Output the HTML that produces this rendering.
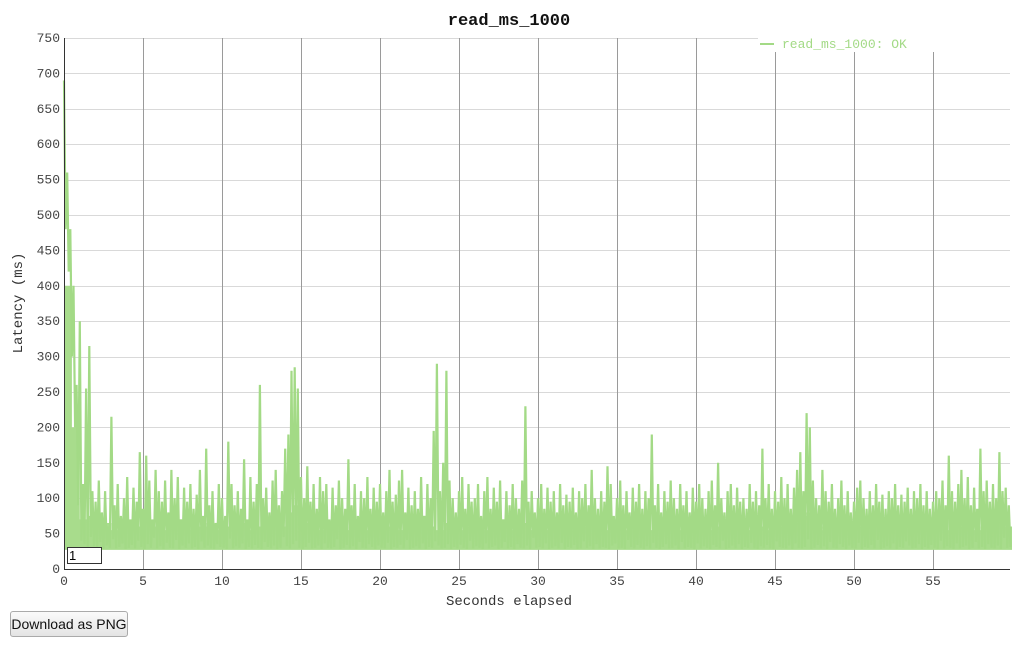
<!DOCTYPE html>
<html><head><meta charset="utf-8"><style>
body{margin:0;background:#fff;width:1024px;height:647px;overflow:hidden;font-family:"Liberation Mono",monospace}
svg{position:absolute;left:0;top:0}
#box{position:absolute;left:67px;top:547px;width:32px;height:15px;border:1px solid #333;background:#fff;font:13px "Liberation Sans",sans-serif;line-height:15px;padding-left:1px;box-sizing:content-box}
#btn{position:absolute;left:10px;top:611px;width:118px;height:26px;border:1px solid #aaa;border-radius:3px;background:linear-gradient(#fafafa,#e4e4e4);font:14px "Liberation Sans",sans-serif;color:#111;text-align:center;line-height:24px;box-sizing:border-box}
</style></head><body>
<svg id="chart" width="1024" height="647"></svg>
<div id="box">1</div>
<div id="btn">Download as PNG</div>
<script>
const xTicks=[0,5,10,15,20,25,30,35,40,45,50,55];
const yTicks=[0,50,100,150,200,250,300,350,400,450,500,550,600,650,700,750];
const peakValues=[690,560,480,400,260,350,120,255,315,110,95,125,80,110,60,215,90,120,75,100,130,70,115,95,165,85,160,125,70,140,110,95,125,80,140,100,130,70,115,95,120,85,105,140,75,170,90,110,65,120,100,75,180,120,90,110,85,155,70,130,95,120,260,100,115,80,125,140,90,110,170,190,280,285,255,130,100,145,95,120,85,130,110,120,70,115,90,125,100,85,155,90,120,75,110,100,130,85,115,95,120,80,110,140,95,105,125,140,80,115,90,110,85,130,75,120,100,195,290,110,150,280,125,100,80,110,130,85,120,95,100,120,75,110,130,85,115,95,125,70,110,90,120,100,85,125,230,95,110,80,100,120,85,115,95,110,80,120,90,105,95,115,80,110,100,120,90,140,100,85,110,95,145,120,75,100,125,90,110,80,115,95,120,85,110,100,190,90,120,80,110,95,125,100,85,120,90,110,80,115,95,120,100,85,110,125,90,150,100,80,110,120,90,115,95,100,85,120,95,110,90,170,100,120,85,110,95,130,100,120,85,115,140,165,110,220,200,125,100,90,140,110,95,120,85,100,125,90,110,80,95,115,125,100,85,110,90,120,95,105,85,110,100,120,90,105,95,115,85,110,100,120,90,110,85,95,110,100,125,90,160,110,95,120,140,100,130,90,115,85,170,110,125,95,120,100,165,110,115,90];
const troughValues=[480,420,300,200,90,40,35,30,45,32,29,38,28,33,30,42,29,31,36,28,30,34,29,40,31,28,35,30,44,29,32,28,37,30,29,41,28,33,30,36,29,31,28,39,30,33,29,28,35,31,30,28,43,29,32,30,36,28,31,29,34,30,28,38,31,29,33,28,30,45,32,29,35,40,30,28,31,37,29,30,33,28,36,30,29,31,42,28,30,34,29,32,28,38,30,29,35,31,28,33,30,29,37,28,31,30,34,29,41,28,30,32,29,36,28,31,30,39,33,29,30,35,28,31,29,34,30,28,40,29,32,30,28,36,29,31,33,28,30,38,29,31,28,35,30,29,33,28,44,30,31,29,36,28,30,32,29,37,28,31,30,34,28,29,39,30,32,28,35,29,31,30,28,33,36,29,30,28,41,31,29,34,30,28,32,29,37,30,28,31,35,29,30,33,28,38,29,31,30,28,36,29,32,30,28,34,31,29,40,28,30,33,29,35,28,31,30,37,29,28,32,30,34,29,28,39,31,30,29,33,28,36,30,29,31,42,28,30,34,29,32,28,38,30,29,35,31,28,33,30,29,37,28,31,30,34,29,41,28,30,32,29,36,28,31,30,39,33,29,30,35,28,31,29,34,30,28,40,29,32,30,28,36,29,31,33,28,30,38,29,31,28,35,30,29,33,28,44,30,31,29,36,28,30,32,29,37,28,31,30,34];
// dense-fill level per 0.5 s (where samples pack solid)
const denseLevel=[400,200,70,75,60,65,55,70,65,60,70,60,55,65,70,60,55,60,65,55,60,70,65,55,60,65,75,60,80,90,65,60,55,60,65,55,60,70,55,60,65,60,55,65,70,75,60,55,65,60,55,60,65,55,60,70,55,60,65,55,60,55,65,60,55,60,65,60,55,65,70,55,60,65,55,60,70,60,55,65,60,55,60,65,70,60,55,65,60,55,60,70,65,75,80,60,55,65,60,55,60,55,65,60,55,60,65,55,60,65,60,70,55,60,65,55,60,65,70,60];
const NS="http://www.w3.org/2000/svg";
const svg=document.getElementById('chart');
const X0=64,X1=1012,Y0=569,Y1=38;
const xs=t=>X0+(X1-X0)*t/60;
const ys=v=>Y0-(Y0-Y1)*v/750;
const px=v=>Math.round(v)+0.5;
function mk(tag,attrs,parent){const e=document.createElementNS(NS,tag);for(const k in attrs)e.setAttribute(k,attrs[k]);(parent||svg).appendChild(e);return e;}
const grid=mk('g',{});


yTicks.forEach(v=>{if(v>0){mk('line',{x1:X0,x2:1010,y1:px(ys(v)),y2:px(ys(v)),stroke:'#d9d9d9','stroke-width':1},grid);}
 const t=mk('text',{x:X0-4,y:ys(v)+4,'text-anchor':'end','font-size':13,fill:'#444','font-family':'Liberation Mono, monospace'});
 t.textContent=v;
 
 });
xTicks.forEach(v=>{if(v>0){mk('line',{x1:px(xs(v)),x2:px(xs(v)),y1:Y1,y2:Y0,stroke:'#9a9a9a','stroke-width':1},grid);}
 const t=mk('text',{x:xs(v),y:585,'text-anchor':'middle','font-size':13,fill:'#444','font-family':'Liberation Mono, monospace'});
 t.textContent=v;
 
 });
let fp=[xs(0).toFixed(1)+','+ys(27).toFixed(1)];
for(let i=0;i<denseLevel.length;i++){fp.push(xs(i*0.5).toFixed(1)+','+ys(denseLevel[i]).toFixed(1));fp.push(xs(i*0.5+0.5).toFixed(1)+','+ys(denseLevel[i]).toFixed(1));}
fp.push(xs(60).toFixed(1)+','+ys(27).toFixed(1));
const fill=mk('polygon',{points:fp.join(' '),fill:'#a8dc8c',stroke:'none'});


let pts=[];
for(let i=0;i<peakValues.length;i++){pts.push(xs(i*0.2).toFixed(1)+','+ys(peakValues[i]).toFixed(1));
 if(i<troughValues.length)pts.push(xs(i*0.2+0.1).toFixed(1)+','+ys(troughValues[i]).toFixed(1));}
const line=mk('polyline',{points:pts.join(' '),fill:'none',stroke:'#a3da86','stroke-width':2.2,'stroke-linejoin':'miter'});


mk('line',{x1:X0+0.5,x2:X0+0.5,y1:Y1,y2:Y0,stroke:'#333','stroke-width':1});
mk('line',{x1:X0,x2:1010,y1:Y0+0.5,y2:Y0+0.5,stroke:'#333','stroke-width':1});
const lg=mk('g',{});


mk('rect',{x:758,y:36,width:254,height:16,fill:'#fff'},lg);
mk('line',{x1:760,x2:774,y1:44,y2:44,stroke:'#a3da86','stroke-width':2},lg);
const lt=mk('text',{x:782,y:48,'font-size':13,fill:'#a3da86','font-family':'Liberation Mono, monospace'},lg);
lt.textContent='read_ms_1000: OK';
const title=mk('text',{x:509,y:25,'text-anchor':'middle','font-size':17,'font-weight':'bold',fill:'#111','font-family':'Liberation Mono, monospace'});
title.textContent='read_ms_1000';


const xt=mk('text',{x:509,y:605,'text-anchor':'middle','font-size':14,fill:'#333','font-family':'Liberation Mono, monospace'});
xt.textContent='Seconds elapsed';


const yt=mk('text',{x:0,y:0,'text-anchor':'middle','font-size':14,fill:'#333','font-family':'Liberation Mono, monospace',transform:'translate(22,303) rotate(-90)'});
yt.textContent='Latency (ms)';


</script>
</body></html>
